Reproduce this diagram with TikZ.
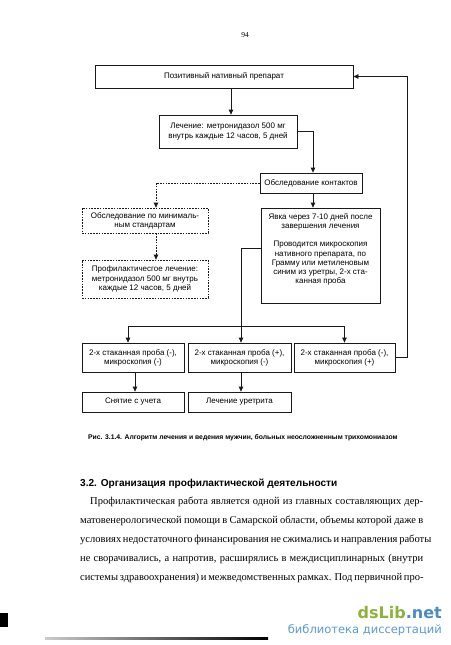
\documentclass[tikz,border=0pt]{standalone}
\usepackage{fontspec}
\setmainfont{Liberation Serif}
\setsansfont{Liberation Sans}
\newfontfamily\wmfont{DejaVu Sans}
\usetikzlibrary{arrows.meta}
\definecolor{wmgreen}{HTML}{8CB43C}
\definecolor{wmblue}{HTML}{4A8CC4}
\definecolor{wmlight}{HTML}{5B9BD5}
\begin{document}
\begin{tikzpicture}[x=1pt,y=-1pt,
  box/.style={draw=black!90, line width=0.75pt, align=center, inner sep=1pt,
    font=\sffamily\fontsize{8}{9.2}\selectfont},
  dbox/.style={box, dash pattern=on 1.6pt off 1.2pt},
  con/.style={draw=black!90, line width=0.75pt},
  arr/.style={con, -{Triangle[length=5pt,width=4.5pt]}},
  darr/.style={arr, dash pattern=on 1.6pt off 1.2pt},
  para/.style={anchor=base west, inner sep=0pt, font=\fontsize{10.5}{12}\selectfont}]
\useasboundingbox (0,0) rectangle (450,645);
\fill[white] (0,0) rectangle (450,645);

% page number
\node[font=\fontsize{7.5}{9}\selectfont, inner sep=0pt] (pg) at (245,35) {94};

% boxes
\node[box, minimum width=258pt, minimum height=23pt] (top) at (224,76.5) {Позитивный нативный препарат};
\node[box, minimum width=138pt, minimum height=33pt] (lech) at (228,131.5) {Лечение: метронидазол 500 мг\\внутрь каждые 12 часов, 5 дней};
\node[box, minimum width=102pt, minimum height=20pt] (kont) at (311,183) {Обследование контактов};
\node[dbox, minimum width=126pt, minimum height=25pt] (min) at (145,220.5) {Обследование по минималь-\\ным стандартам};
\node[dbox, minimum width=126pt, minimum height=38pt] (prof) at (145,279) {Профилактичесгое лечение:\\метронидазол 500 мг внутрь\\каждые 12 часов, 5 дней};
\node[box, minimum width=119pt, minimum height=95pt, text depth=14pt] (yavka) at (320.5,255.5) {Явка через 7-10 дней после\\завершения лечения\\[9.2pt]Проводится микроскопия\\нативного препарата, по\\Грамму или метиленовым\\синим из уретры, 2-х ста-\\канная проба};
\node[box, minimum width=102pt, minimum height=29pt] (A) at (133,357.5) {2-х стаканная проба (-),\\микроскопия (-)};
\node[box, minimum width=103pt, minimum height=29pt] (B) at (239.5,357.5) {2-х стаканная проба (+),\\микроскопия (-)};
\node[box, minimum width=101pt, minimum height=29pt] (C) at (344.5,357.5) {2-х стаканная проба (-),\\микроскопия (+)};
\node[box, minimum width=102pt, minimum height=20pt] (S) at (133,402) {Снятие с учета};
\node[box, minimum width=103pt, minimum height=20pt] (L) at (239.5,402) {Лечение уретрита};

% connectors
\draw[arr] ([xshift=3pt]lech.north |- top.south) -- ([xshift=3pt]lech.north);
\draw[arr] (lech.east) -| ([xshift=2pt]kont.north);
\draw[darr] (kont.west) -| ([xshift=11pt]min.north);
\draw[darr] ([xshift=11pt]min.south) -- ([xshift=11pt]prof.north);
\draw[arr] ([xshift=2pt]kont.south) -- ([xshift=2pt]kont.south |- yavka.north);
\draw[arr] ([yshift=7.5pt]yavka.west) -| ([xshift=1.5pt]B.north);
\draw[con, {Triangle[length=5pt,width=4.5pt]}-{Triangle[length=5pt,width=4.5pt]}] ([xshift=-5pt]A.north) -- ++(0,-16) -| (C.north);
\draw[arr] (C.east) -- ++(12,0) |- (top.east);
\draw[arr] ([xshift=2pt]A.south) -- ([xshift=2pt]S.north);
\draw[arr] ([xshift=1.5pt]B.south) -- ([xshift=1.5pt]L.north);

% caption
\node[anchor=base west, inner sep=0pt, font=\sffamily\bfseries\fontsize{6.8}{8}\selectfont] (cap) at (88,439.5) {Рис. 3.1.4. Алгоритм лечения и ведения мужчин, больных неосложненным трихомониазом};

% heading
\node[anchor=base west, inner sep=0pt, font=\sffamily\bfseries\fontsize{10.1}{12}\selectfont] (head) at (80,486) {3.2. Организация профилактической деятельности};

% paragraph
\node[para] (p1) at (90,504.5) {\makebox[333pt][s]{Профилактическая работа является одной из главных составляющих дер-}};
\node[para] (p2) at (80,523.5) {\makebox[343pt][s]{матовенерологической помощи в Самарской области, объемы которой даже в}};
\node[para] (p3) at (80,542.5) {\makebox[343pt][s]{условиях недостаточного финансирования не сжимались и направления работы}};
\node[para] (p4) at (80,561.5) {\makebox[343pt][s]{не сворачивались, а напротив, расширялись в междисциплинарных (внутри}};
\node[para] (p5) at (80,580.5) {\makebox[343pt][s]{системы здравоохранения) и межведомственных рамках. Под первичной про-}};

% watermark
\node[anchor=base east, inner sep=0pt, font=\wmfont\bfseries\fontsize{16}{18}\selectfont] (wm1) at (442,618) {\textcolor{wmgreen}{dsLib}\textcolor{wmblue}{.net}};
\node[anchor=base east, inner sep=0pt, font=\wmfont\fontsize{11.5}{13}\selectfont, text=wmlight] (wm2) at (442,633) {библиотека диссертаций};

% scan artefacts
\fill[black] (0,613) rectangle (8,627);
\shade[left color=black!20, right color=black] (45,637) rectangle (268,639.5);
\end{tikzpicture}
\end{document}
